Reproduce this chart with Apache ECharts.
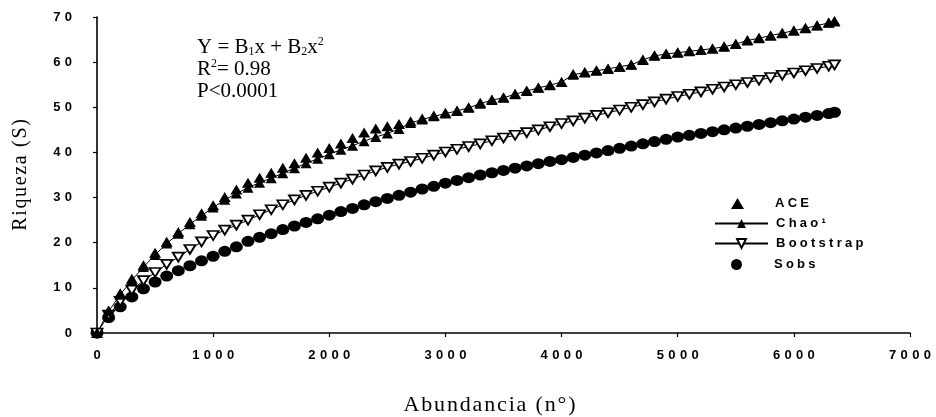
<!DOCTYPE html>
<html>
<head>
<meta charset="utf-8">
<script src="https://cdn.jsdelivr.net/npm/echarts@6/dist/echarts.min.js"></script>
<style>
  html, body { margin: 0; padding: 0; background: #fff; }
  #chart { width: 936px; height: 417px; }
</style>
</head>
<body>
<div id="chart"></div>
<script>
// Abundance (number of individuals) at which richness was estimated
const abundance = [0,100,200,300,400,500,600,700,800,900,1000,1100,1200,1300,1400,1500,1600,1700,1800,1900,
  2000,2100,2200,2300,2400,2500,2600,2700,2800,2900,3000,3100,3200,3300,3400,3500,3600,3700,3800,3900,
  4000,4100,4200,4300,4400,4500,4600,4700,4800,4900,5000,5100,5200,5300,5400,5500,5600,5700,5800,5900,
  6000,6100,6200,6300,6350];

const ace = [0,5.0,8.8,12.0,15.0,17.8,20.2,22.4,24.6,26.5,28.3,30.1,31.8,33.3,34.4,35.5,36.6,37.6,38.8,40.0,
  41.0,42.0,43.2,44.4,45.3,45.8,46.3,46.9,47.5,48.2,48.8,49.3,50.0,51.0,51.7,52.2,53.0,53.7,54.4,55.0,
  55.6,57.4,57.8,58.2,58.6,59.0,59.5,60.6,61.5,61.9,62.2,62.5,62.7,63.0,63.5,64.1,64.9,65.4,65.9,66.5,
  67.0,67.6,68.2,68.8,69.1];

const chao1 = [0,4.8,8.5,11.7,14.6,17.3,19.8,22.0,24.1,26.0,27.8,29.5,30.9,32.2,33.3,34.3,35.4,36.5,37.6,38.6,
  39.6,40.6,41.5,42.5,43.4,44.2,45.2,46.5,47.3,48.0,48.6,49.2,49.9,50.8,51.6,52.1,52.9,53.6,54.3,54.9,
  55.6,57.2,57.7,58.1,58.5,59.0,59.4,60.5,61.4,61.8,62.1,62.4,62.7,63.0,63.4,64.0,64.8,65.3,65.9,66.4,
  67.0,67.5,68.1,68.7,69.0];

const bootstrap = [0,4.0,7.0,9.5,11.6,13.4,15.2,16.8,18.5,20.2,21.6,22.8,23.9,25.0,26.2,27.3,28.4,29.5,30.5,31.4,
  32.3,33.2,34.1,35.0,35.9,36.7,37.4,38.0,38.7,39.4,40.1,40.7,41.3,41.9,42.6,43.2,43.8,44.4,45.0,45.7,
  46.4,47.0,47.6,48.2,48.8,49.4,50.0,50.6,51.2,51.8,52.4,52.9,53.4,54.0,54.5,55.0,55.5,56.0,56.6,57.1,
  57.6,58.1,58.6,59.1,59.4];

const sobs = [0,3.4,5.8,8.0,9.8,11.3,12.6,13.8,14.9,16.0,17.0,18.1,19.1,20.3,21.2,22.0,22.9,23.7,24.5,25.3,
  26.1,26.9,27.6,28.4,29.1,29.8,30.5,31.2,31.9,32.5,33.2,33.8,34.4,35.0,35.5,36.0,36.5,37.0,37.5,38.0,
  38.4,38.9,39.4,39.9,40.4,40.9,41.4,41.9,42.4,42.9,43.4,43.8,44.2,44.6,45.0,45.4,45.8,46.2,46.6,47.0,
  47.4,47.8,48.2,48.6,48.9];

const seriesNames = ['ACE', 'Chao\u00b9', 'Bootstrap', 'Sobs'];
const xName = 'Abundancia (n\u00b0)';
const yName = 'Riqueza (S)';

// tracked (letter-spaced) sans text, as used on ticks and legend
const track = (s, gap) => String(s).split('').join(gap);
const pairs = vals => abundance.map((x, i) => [x, vals[i]]);

const sansBold = { fontFamily: 'Liberation Sans, Arial, sans-serif', fontWeight: 'bold', color: '#000' };
const serif = 'Liberation Serif, Times New Roman, serif';

// one legend block per row so marker-only keys keep a small icon
const legendRow = (names, top, left, itemWidth, pad) => ({
  orient: 'vertical', left, top,
  itemWidth, itemHeight: 11, itemGap: 7,
  data: names,
  formatter: n => track(n, '\u2005'),
  textStyle: { ...sansBold, fontSize: 13, padding: [0, 0, 0, pad] },
  selectedMode: false
});

const chart = echarts.init(document.getElementById('chart'), null, { renderer: 'canvas' });

chart.setOption({
  backgroundColor: '#fff',
  animation: false,
  grid: { left: 97, right: 26, top: 17, bottom: 84, containLabel: false, outerBoundsMode: 'none' },
  xAxis: {
    type: 'value', min: 0, max: 7000, interval: 1000,
    name: track(xName, '\u200a'), nameLocation: 'middle', nameGap: 61,
    nameTextStyle: { fontFamily: serif, fontSize: 22, color: '#000', padding: [0, 28, 0, 0] },
    axisLine: { lineStyle: { color: '#000', width: 1.6 } },
    axisTick: { length: 4, lineStyle: { color: '#000', width: 1.2 } },
    axisLabel: { ...sansBold, fontSize: 13, margin: 16, formatter: v => track(v, '\u2004') },
    splitLine: { show: false }
  },
  yAxis: {
    type: 'value', min: 0, max: 70, interval: 10,
    name: track(yName, '\u200a'), nameLocation: 'middle', nameGap: 66,
    nameTextStyle: { fontFamily: serif, fontSize: 20, color: '#000' },
    axisLine: { show: true, lineStyle: { color: '#000', width: 1.6 } },
    axisTick: { show: true, length: 4, lineStyle: { color: '#000', width: 1.2 } },
    axisLabel: { ...sansBold, fontSize: 13, margin: 25, formatter: v => track(v, '\u2004') },
    splitLine: { show: false }
  },
  legend: [
    legendRow(['ACE'], 192, 726, 13, 26),
    legendRow(['Chao\u00b9', 'Bootstrap'], 212, 709, 53, 3),
    legendRow(['Sobs'], 253, 726, 13, 26)
  ],
  graphic: [{
    type: 'text', left: 197, top: 36,
    style: {
      text: '{n|Y = B}{sb|1}{n|x + B}{sb|2}{n|x}{sp|2}\n{n|R}{sp|2}{n|= 0.98}\n{n|P<0.0001}',
      fill: '#000',
      rich: {
        n: { fontFamily: serif, fontSize: 21, lineHeight: 22, fill: '#000' },
        sb: { fontFamily: serif, fontSize: 12, lineHeight: 14, verticalAlign: 'bottom', fill: '#000' },
        sp: { fontFamily: serif, fontSize: 12, lineHeight: 16, verticalAlign: 'top', fill: '#000' }
      }
    }
  }],
  series: [
    {
      name: 'Sobs', type: 'scatter', data: pairs(sobs), z: 2,
      symbol: 'circle', symbolSize: [13, 11],
      itemStyle: { color: '#000', opacity: 1 }
    },
    {
      name: 'Bootstrap', type: 'line', data: pairs(bootstrap), z: 3,
      symbol: 'triangle', symbolRotate: 180, symbolSize: [11, 9], showAllSymbol: true,
      lineStyle: { color: '#000', width: 1 },
      itemStyle: { color: '#fff', borderColor: '#000', borderWidth: 1.8, opacity: 1 }
    },
    {
      name: 'Chao\u00b9', type: 'line', data: pairs(chao1), z: 4,
      symbol: 'triangle', symbolSize: [11, 10], showAllSymbol: true,
      lineStyle: { color: '#000', width: 1 },
      itemStyle: { color: '#000', opacity: 1 }
    },
    {
      name: 'ACE', type: 'scatter', data: pairs(ace), z: 5,
      symbol: 'triangle', symbolSize: [12, 10],
      itemStyle: { color: '#000', opacity: 1 }
    }
  ]
});
</script>
</body>
</html>
